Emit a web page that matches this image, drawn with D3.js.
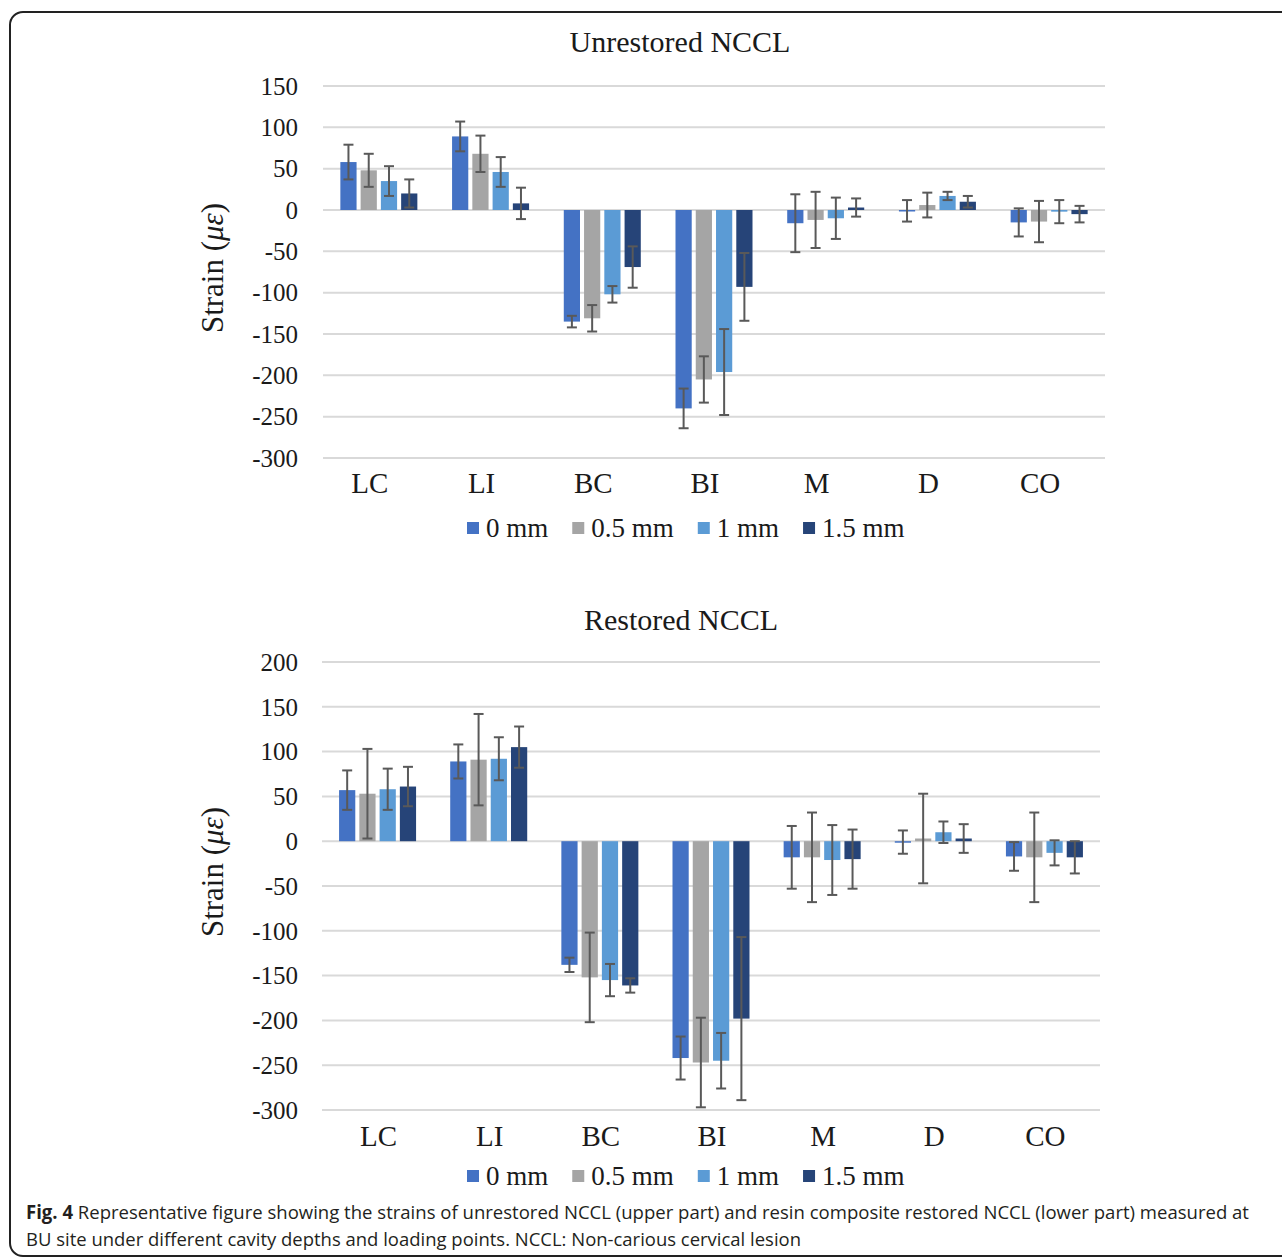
<!DOCTYPE html>
<html>
<head>
    <script src="https://cdn.jsdelivr.net/npm/d3@7" type="text/javascript"></script>
    <style>
        body { margin: 0; background: #fff; }
    </style>
</head>
<body>
    <div id="viz"></div>
    <script type="text/javascript">

    // loading points and cavity depths
    var categories = ["LC", "LI", "BC", "BI", "M", "D", "CO"];
    var series = ["0 mm", "0.5 mm", "1 mm", "1.5 mm"];
    var colors = ["#4472C4", "#A5A5A5", "#5B9BD5", "#264478"];

    // unrestored NCCL (upper part), mean strain and error
    var unres0 = [58, 89, -135, -240, -16, -1, -15];
    var unres05 = [48, 68, -131, -205, -12, 6, -14];
    var unres1 = [35, 46, -102, -196, -10, 17, -2];
    var unres15 = [20, 8, -69, -93, 3, 10, -5];
    var unresErr0 = [21, 18, 7, 24, 35, 13, 17];
    var unresErr05 = [20, 22, 16, 28, 34, 15, 25];
    var unresErr1 = [18, 18, 10, 52, 25, 5, 14];
    var unresErr15 = [17, 19, 25, 41, 11, 7, 10];
    var unresTicks = [150, 100, 50, 0, -50, -100, -150, -200, -250, -300];

    // restored NCCL (lower part)
    var res0 = [57, 89, -138, -242, -18, -1, -17];
    var res05 = [53, 91, -152, -247, -18, 3, -18];
    var res1 = [58, 92, -155, -245, -21, 10, -13];
    var res15 = [61, 105, -161, -198, -20, 3, -18];
    var resErr0 = [22, 19, 8, 24, 35, 13, 16];
    var resErr05 = [50, 51, 50, 50, 50, 50, 50];
    var resErr1 = [23, 24, 18, 31, 39, 12, 14];
    var resErr15 = [22, 23, 8, 91, 33, 16, 18];
    var resTicks = [200, 150, 100, 50, 0, -50, -100, -150, -200, -250, -300];

    var serif = "'Liberation Serif', 'Times New Roman', serif";
    var textColor = "#1a1a1a";

    var svg = d3.select("#viz")
        .append("svg")
        .attr("width", 1282)
        .attr("height", 1257);

    // panel border (runs off the right and bottom edge)
    svg.append("rect")
        .attr("x", 10).attr("y", 12)
        .attr("width", 1300).attr("height", 1244)
        .attr("rx", 13).attr("ry", 13)
        .style("fill", "none")
        .style("stroke", "#222")
        .style("stroke-width", 2);

    function drawChart(opt) {
        var g = svg.append("g");

        var x0 = d3.scaleBand()
            .domain(categories)
            .range([opt.left, opt.right])
            .padding(0);
        var bw = x0.bandwidth();
        var x1 = d3.scaleBand()
            .domain(series)
            .range([bw / 2 - 38.5, bw / 2 + 38.5])
            .paddingInner(0.2);
        var y = d3.scaleLinear()
            .domain([d3.min(opt.ticks), d3.max(opt.ticks)])
            .range([opt.bottom, opt.top]);

        // title
        g.append("text")
            .attr("x", opt.titleX).attr("y", opt.titleY)
            .attr("text-anchor", "middle")
            .style("font-family", serif)
            .style("font-size", "30px")
            .style("fill", textColor)
            .text(opt.title);

        // grid lines
        g.selectAll("line.grid")
            .data(opt.ticks)
            .enter().append("line")
            .attr("class", "grid")
            .attr("x1", opt.left).attr("x2", opt.right)
            .attr("y1", function(d) { return y(d); })
            .attr("y2", function(d) { return y(d); })
            .style("stroke", "#d9d9d9")
            .style("stroke-width", 2);

        // y tick labels
        g.selectAll("text.ytick")
            .data(opt.ticks)
            .enter().append("text")
            .attr("class", "ytick")
            .attr("x", 298)
            .attr("y", function(d) { return y(d); })
            .attr("dy", "0.35em")
            .attr("text-anchor", "end")
            .style("font-family", serif)
            .style("font-size", "25px")
            .style("fill", textColor)
            .text(function(d) { return d; });

        // y axis title
        var yt = g.append("text")
            .attr("transform", "translate(212," + opt.yTitleY + ") rotate(-90)")
            .attr("text-anchor", "middle")
            .attr("dominant-baseline", "central")
            .style("font-family", serif)
            .style("font-size", "31px")
            .style("fill", textColor);
        yt.append("tspan").text("Strain (");
        yt.append("tspan").style("font-style", "italic").text("\u03BC\u03B5");
        yt.append("tspan").text(")");

        var rows = [];
        categories.forEach(function(c, i) {
            series.forEach(function(s, j) {
                rows.push({cat: c, s: s, j: j, v: opt.values[j][i], e: opt.errors[j][i]});
            });
        });

        // bars
        var bars = g.selectAll("g.bar")
            .data(rows)
            .enter().append("g")
            .attr("class", "bar")
            .attr("transform", function(d) { return "translate(" + (x0(d.cat) + x1(d.s)) + ",0)"; });

        bars.append("rect")
            .attr("x", 0)
            .attr("width", x1.bandwidth())
            .attr("y", function(d) { return y(Math.max(0, d.v)); })
            .attr("height", function(d) { return Math.max(1.5, Math.abs(y(d.v) - y(0))); })
            .style("fill", function(d) { return colors[d.j]; });

        // error bars
        var cx = x1.bandwidth() / 2;
        bars.append("line")
            .attr("x1", cx).attr("x2", cx)
            .attr("y1", function(d) { return y(d.v + d.e); })
            .attr("y2", function(d) { return y(d.v - d.e); })
            .style("stroke", "#595959").style("stroke-width", 2);
        bars.append("line")
            .attr("x1", cx - 5).attr("x2", cx + 5)
            .attr("y1", function(d) { return y(d.v + d.e); })
            .attr("y2", function(d) { return y(d.v + d.e); })
            .style("stroke", "#595959").style("stroke-width", 2);
        bars.append("line")
            .attr("x1", cx - 5).attr("x2", cx + 5)
            .attr("y1", function(d) { return y(d.v - d.e); })
            .attr("y2", function(d) { return y(d.v - d.e); })
            .style("stroke", "#595959").style("stroke-width", 2);

        // category labels
        g.selectAll("text.xcat")
            .data(categories)
            .enter().append("text")
            .attr("class", "xcat")
            .attr("x", function(d) { return x0(d) + bw / 2 + opt.catShift; })
            .attr("y", opt.catY)
            .attr("text-anchor", "middle")
            .style("font-family", serif)
            .style("font-size", "29px")
            .style("fill", textColor)
            .text(function(d) { return d; });

        // legend
        var leg = g.append("g");
        var lx = 467;
        series.forEach(function(s, j) {
            leg.append("rect")
                .attr("x", lx).attr("y", opt.legendY - 6)
                .attr("width", 12).attr("height", 12)
                .style("fill", colors[j]);
            var t = leg.append("text")
                .attr("x", lx + 19).attr("y", opt.legendY)
                .attr("dy", "0.35em")
                .style("font-family", serif)
                .style("font-size", "27px")
                .style("fill", textColor)
                .text(s);
            lx += 19 + t.node().getComputedTextLength() + 24;
        });
    }

    drawChart({
        title: "Unrestored NCCL", titleX: 680, titleY: 52,
        left: 323, right: 1105, top: 86, bottom: 458,
        ticks: unresTicks,
        values: [unres0, unres05, unres1, unres15],
        errors: [unresErr0, unresErr05, unresErr1, unresErr15],
        yTitleY: 268, catY: 493, catShift: -9, legendY: 528
    });

    drawChart({
        title: "Restored NCCL", titleX: 681, titleY: 630,
        left: 322, right: 1100, top: 662, bottom: 1110,
        ticks: resTicks,
        values: [res0, res05, res1, res15],
        errors: [resErr0, resErr05, resErr1, resErr15],
        yTitleY: 872, catY: 1146, catShift: 1, legendY: 1176
    });

    // caption
    var sans = "'Open Sans', 'Noto Sans', sans-serif";
    var cap1 = svg.append("text")
        .attr("x", 26).attr("y", 1219)
        .attr("textLength", 1223)
        .attr("lengthAdjust", "spacingAndGlyphs")
        .style("font-family", sans)
        .style("font-size", "19px")
        .style("fill", "#231f20");
    cap1.append("tspan").style("font-weight", "bold").text("Fig. 4");
    cap1.append("tspan").text(" Representative figure showing the strains of unrestored NCCL (upper part) and resin composite restored NCCL (lower part) measured at");

    svg.append("text")
        .attr("x", 26).attr("y", 1246)
        .attr("textLength", 775)
        .attr("lengthAdjust", "spacingAndGlyphs")
        .style("font-family", sans)
        .style("font-size", "19px")
        .style("fill", "#231f20")
        .text("BU site under different cavity depths and loading points. NCCL: Non-carious cervical lesion");

    </script>
</body>
</html>
